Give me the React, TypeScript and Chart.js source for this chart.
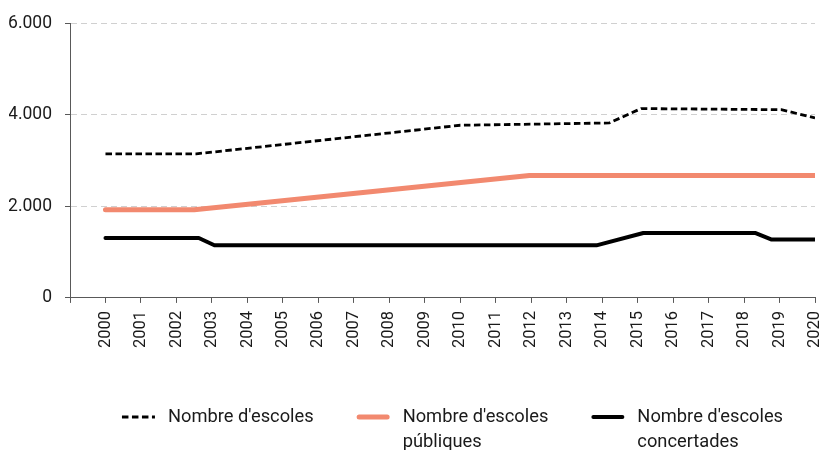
import React, { useEffect, useRef } from 'react';
import { Chart, registerables } from 'chart.js';

Chart.register(...registerables);

// ---- data ----
const yearTicks = [1999, 2000, 2001, 2002, 2003, 2004, 2005, 2006, 2007, 2008, 2009, 2010, 2011, 2012, 2013, 2014, 2015, 2016, 2017, 2018, 2019, 2020];
const yTickValues = [0, 2000, 4000, 6000];

const totalYears = [2000, 2002.56, 2010, 2014.2, 2015.1, 2019.05, 2020];
const totalSchools = [3150, 3150, 3775, 3825, 4140, 4115, 3935];

const publicYears = [2000, 2002.5, 2011.95, 2020];
const publicSchools = [1930, 1930, 2675, 2675];

const concertYears = [2000, 2002.63, 2003.07, 2013.84, 2015.16, 2018.31, 2018.78, 2020];
const concertSchools = [1310, 1310, 1150, 1150, 1420, 1420, 1275, 1275];

const seriesNames = ["Nombre d'escoles", "Nombre d'escoles públiques", "Nombre d'escoles concertades"];
const legendLines = [["Nombre d'escoles"], ["Nombre d'escoles", "públiques"], ["Nombre d'escoles", "concertades"]];

const FONT = 'Roboto, "Noto Sans", sans-serif';
const ORANGE = '#F2896F';

const fmt = (v: number) => String(v).replace(/\B(?=(\d{3})+(?!\d))/g, '.');
const toPoints = (xs: number[], ys: number[]) => xs.map((x, i) => ({ x, y: ys[i] }));

const multiLegend = {
  id: 'multiLegend',
  afterDraw(chart: any) {
    const ctx = chart.ctx as CanvasRenderingContext2D;
    const fontSize = 18.3;
    const lineH = 25;
    const boxW = 33;
    const gap = 13;
    const pad = 43;
    ctx.save();
    ctx.font = `${fontSize}px ${FONT}`;
    ctx.textBaseline = 'middle';
    ctx.textAlign = 'left';
    const items = chart.data.datasets.map((ds: any, i: number) => {
      const lines = legendLines[i];
      const w = Math.max(...lines.map((l: string) => ctx.measureText(l).width));
      return { ds, lines, w };
    });
    const total = items.reduce((s: number, it: any) => s + boxW + gap + it.w, 0) + pad * (items.length - 1);
    const ca = chart.chartArea;
    const center = (ca.left + ca.right) / 2 + 10;
    let x = center - total / 2;
    const y = chart.height - 33;
    items.forEach((it: any) => {
      ctx.save();
      ctx.strokeStyle = it.ds.borderColor;
      ctx.lineWidth = it.ds.borderWidth;
      ctx.setLineDash(it.ds.borderDash || []);
      ctx.lineCap = it.ds.borderDash ? 'butt' : 'round';
      ctx.beginPath();
      const inset = it.ds.borderDash ? 0 : it.ds.borderWidth / 2;
      ctx.moveTo(x + inset, y);
      ctx.lineTo(x + boxW - inset, y);
      ctx.stroke();
      ctx.restore();
      ctx.fillStyle = '#1a1a1a';
      it.lines.forEach((l: string, j: number) => {
        ctx.fillText(l, x + boxW + gap, y + j * lineH);
      });
      x += boxW + gap + it.w + pad;
    });
    ctx.restore();
  },
};

export default function App() {
  const ref = useRef<HTMLCanvasElement | null>(null);

  useEffect(() => {
    if (!ref.current) return;
    const chart = new Chart(ref.current, {
      type: 'line',
      data: {
        datasets: [
          {
            label: seriesNames[0],
            data: toPoints(totalYears, totalSchools),
            borderColor: '#000000',
            backgroundColor: '#000000',
            borderWidth: 2.8,
            borderDash: [6.5, 3.5],
            pointRadius: 0,
            tension: 0,
          },
          {
            label: seriesNames[1],
            data: toPoints(publicYears, publicSchools),
            borderColor: ORANGE,
            backgroundColor: ORANGE,
            borderWidth: 5,
            borderCapStyle: 'round',
            borderJoinStyle: 'round',
            pointRadius: 0,
            tension: 0,
          },
          {
            label: seriesNames[2],
            data: toPoints(concertYears, concertSchools),
            borderColor: '#000000',
            backgroundColor: '#000000',
            borderWidth: 4,
            borderCapStyle: 'round',
            borderJoinStyle: 'round',
            pointRadius: 0,
            tension: 0,
          },
        ],
      },
      options: {
        animation: false,
        responsive: true,
        maintainAspectRatio: false,
        layout: { padding: { top: 22, right: 11, left: 9, bottom: 94 } },
        plugins: {
          legend: { display: false },
          tooltip: { enabled: false },
        },
        scales: {
          x: {
            type: 'linear',
            min: 1999,
            max: 2020,
            afterBuildTicks: (scale: any) => {
              scale.ticks = yearTicks.map((v) => ({ value: v }));
            },
            afterFit: (scale: any) => {
              scale.paddingLeft = 0;
              scale.paddingRight = 0;
            },
            grid: {
              drawOnChartArea: false,
              tickLength: 5,
              tickColor: '#595959',
              color: '#595959',
            },
            border: { display: true, color: '#595959', width: 1 },
            ticks: {
              autoSkip: false,
              maxRotation: 90,
              minRotation: 90,
              padding: 8,
              color: '#1a1a1a',
              font: { family: FONT, size: 16.5 },
              callback: (v: any) => (v === 1999 ? '' : String(v)),
            },
          },
          y: {
            min: 0,
            max: 6000,
            afterBuildTicks: (scale: any) => {
              scale.ticks = yTickValues.map((v) => ({ value: v }));
            },
            afterFit: (scale: any) => {
              scale.width = 61;
            },
            grid: {
              color: '#d0d0d0',
              lineWidth: 1,
              tickLength: 5,
              tickColor: '#595959',
              tickBorderDash: [],
            },
            border: { display: true, color: '#595959', width: 1, dash: [6, 4] },
            ticks: {
              padding: 13,
              color: '#1a1a1a',
              font: { family: FONT, size: 17.5 },
              callback: (v: any) => fmt(Number(v)),
            },
          },
        },
      },
      plugins: [multiLegend],
    });
    return () => chart.destroy();
  }, []);

  return (
    <div style={{ position: 'absolute', left: 0, top: 0, width: 826, height: 450 }}>
      <canvas ref={ref} />
    </div>
  );
}
